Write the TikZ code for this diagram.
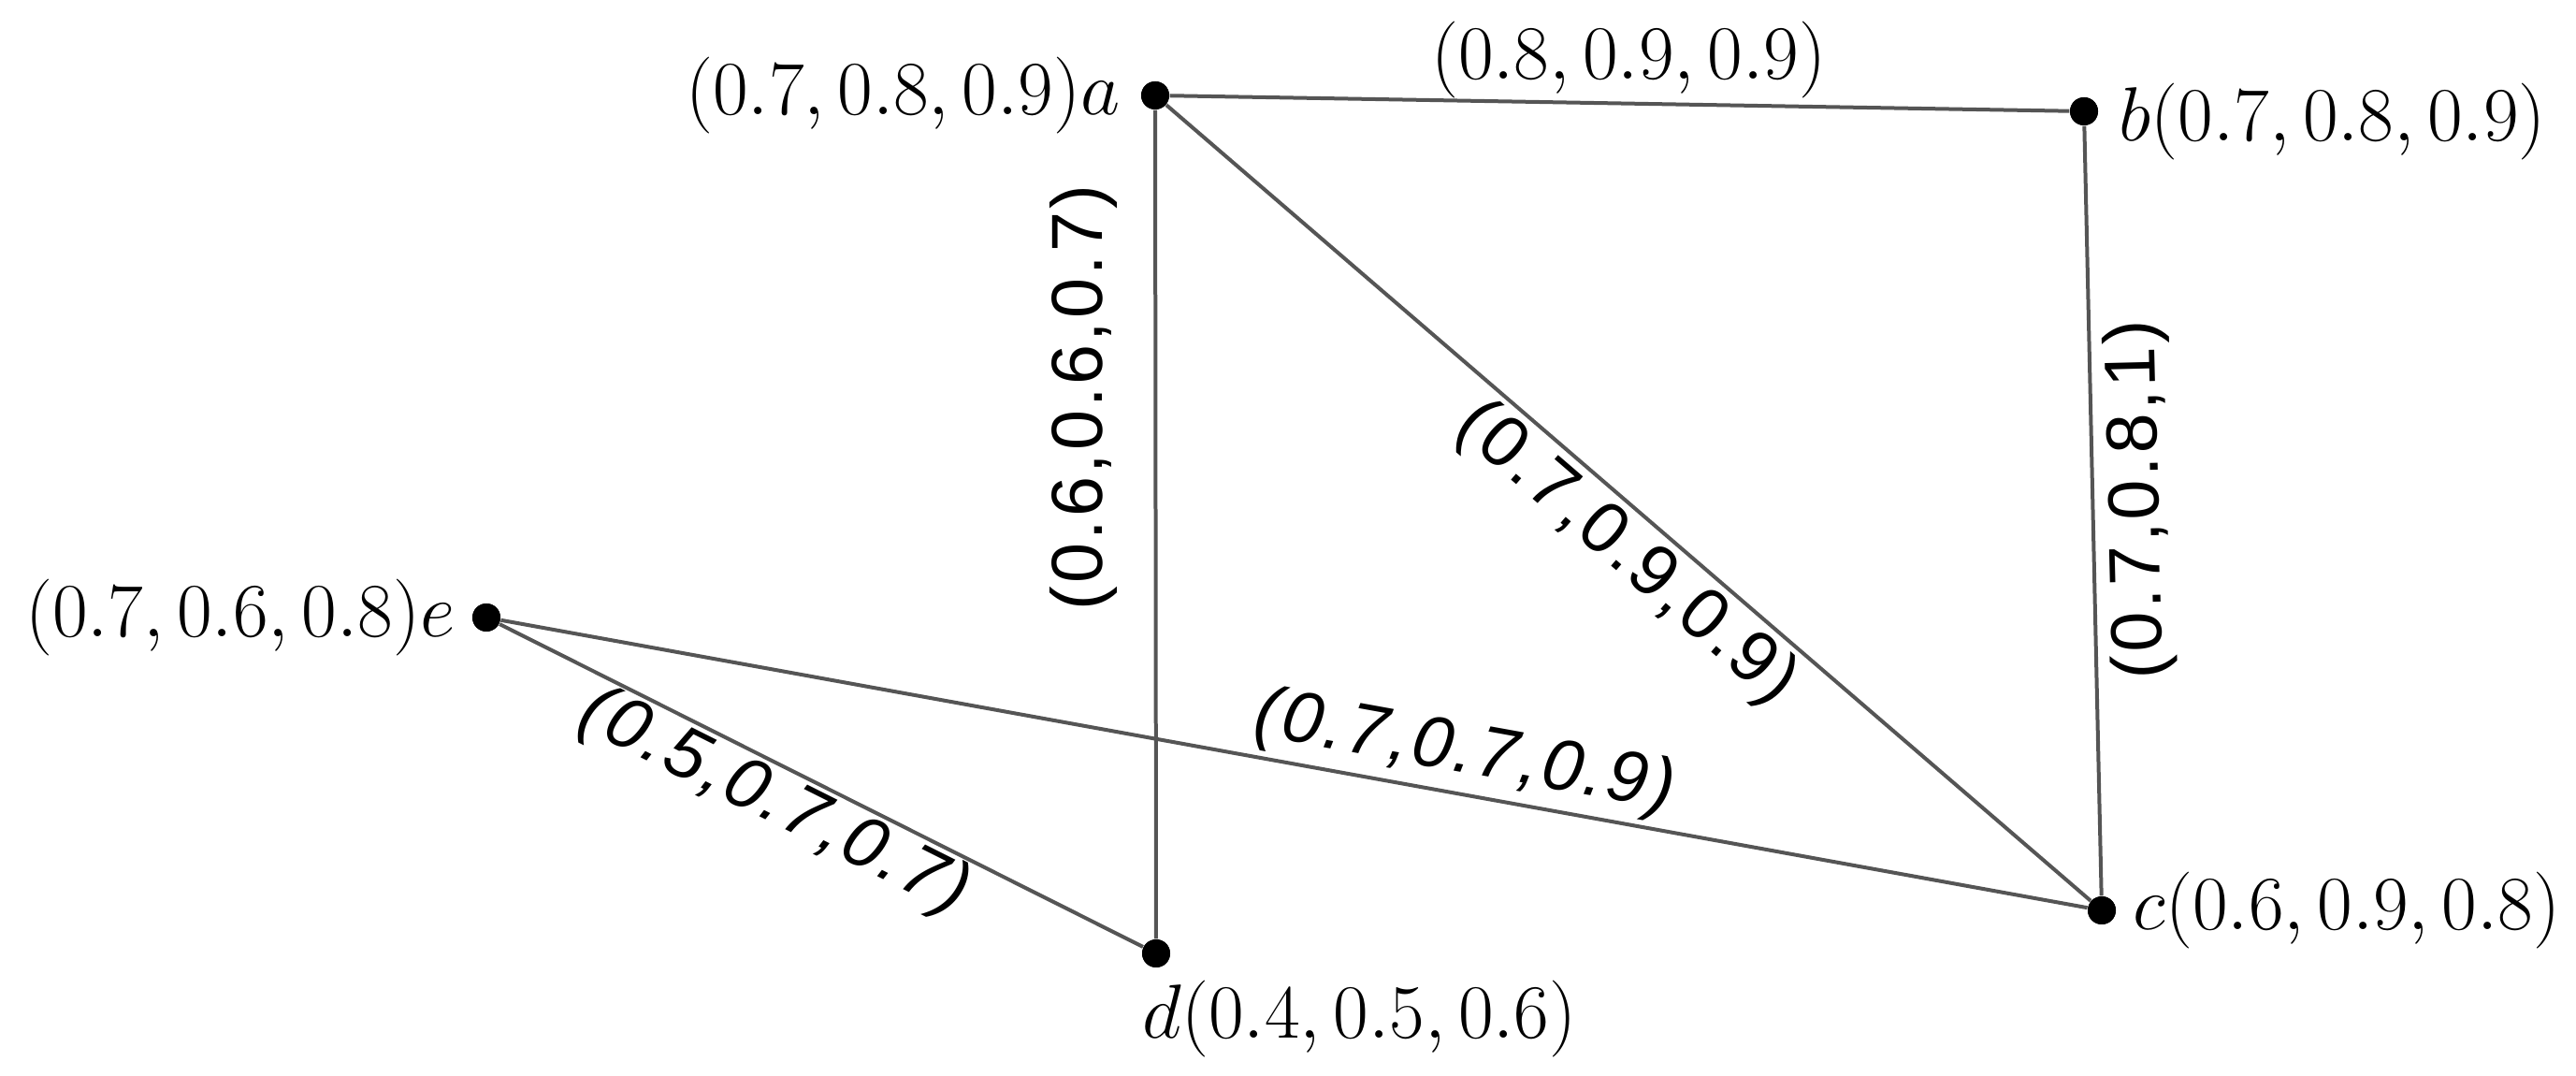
\RequirePackage{fix-cm}
\documentclass[tikz,border=0pt]{standalone}
\usepackage{fontspec}
\newfontfamily\lblsans[LetterSpace=4]{Liberation Sans}
\definecolor{edgegray}{RGB}{85,85,85}
\begin{document}
\begin{tikzpicture}[x=1cm,y=1cm,
  vertex/.style={circle, fill=black, inner sep=0pt, minimum size=0.3cm},
  edge/.style={draw=edgegray, line width=0.04cm},
  vlbl/.style={inner sep=0pt, font=\fontsize{23.3}{28}\selectfont},
  elbl/.style={font=\fontsize{23.3}{28}\selectfont, inner xsep=0pt},
  esans/.style={font=\fontsize{22}{26}\selectfont\lblsans, inner xsep=0pt},
  esansit/.style={font=\fontsize{22}{26}\selectfont\lblsans\itshape, inner xsep=0pt},
]
\useasboundingbox (0,0) rectangle (27.54,11.5);
% vertices
\node[vertex] (a) at (12.35,10.48) {};
\node[vertex] (b) at (22.28,10.31) {};
\node[vertex] (c) at (22.47,1.77) {};
\node[vertex] (d) at (12.36,1.31) {};
\node[vertex] (e) at (5.20,4.90) {};
% edges with labels
\draw[edge] (a) -- (b) node[pos=0.51, anchor=south, inner ysep=1pt, elbl] (lab) {$(0.8, 0.9, 0.9)$};
\draw[edge] (d) -- (a) node[pos=0.653, rotate=90, anchor=south, inner ysep=11pt, esans] (lad) {(0.6,0.6,0.7)};
\draw[edge] (a) -- (c) node[pos=0.526, sloped, anchor=north, inner ysep=1.5pt, esans] (lac) {(0.7,0.9,0.9)};
\draw[edge] (c) -- (b) node[pos=0.513, rotate=91.4, anchor=north, inner ysep=3.5pt, esans] (lbc) {(0.7,0.8,1)};
\draw[edge] (e) -- (c) node[pos=0.603, sloped, anchor=south, inner ysep=1.5pt, esansit] (lec) {(0.7,0.7,0.9)};
\draw[edge] (e) -- (d) node[pos=0.453, sloped, anchor=north, inner ysep=0.5pt, esansit] (led) {(0.5,0.7,0.7)};
% dots on top
\fill (a) circle (0.15cm);
\fill (b) circle (0.15cm);
\fill (c) circle (0.15cm);
\fill (d) circle (0.15cm);
\fill (e) circle (0.15cm);
% vertex labels
\node[vlbl, anchor=east] (la) at ([xshift=-0.37cm]a.center) {$(0.7, 0.8, 0.9)a$};
\node[vlbl, anchor=west] (lb) at ([xshift=0.37cm, yshift=-0.11cm]b.center) {$b(0.7, 0.8, 0.9)$};
\node[vlbl, anchor=west] (lc) at ([xshift=0.33cm]c.center) {$c(0.6, 0.9, 0.8)$};
\node[vlbl, anchor=north west] (ld) at ([xshift=-0.15cm, yshift=-0.28cm]d.center) {$d(0.4, 0.5, 0.6)$};
\node[vlbl, anchor=east] (le) at ([xshift=-0.33cm]e.center) {$(0.7, 0.6, 0.8)e$};
\end{tikzpicture}
\end{document}
